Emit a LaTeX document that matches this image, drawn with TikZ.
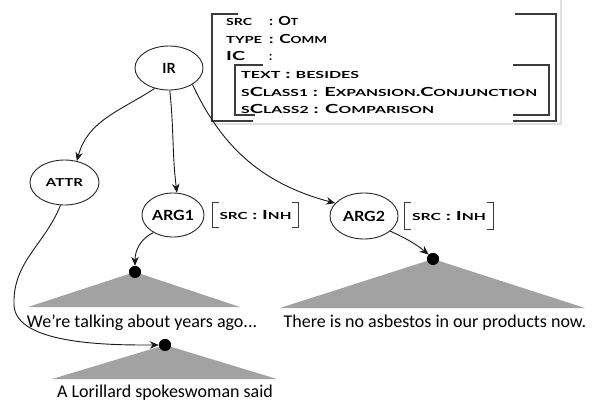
\documentclass[tikz,border=0pt]{standalone}
\usepackage{fontspec}
\setmainfont{Carlito}
\newfontfamily\avmfont{Lato}
\usepackage{tikz}
\usetikzlibrary{calc, shapes.geometric, arrows.meta, shadows}
\definecolor{trigray}{RGB}{162,162,162}
\definecolor{brk}{RGB}{60,60,60}
\makeatletter
\newcommand{\smc}[1]{{\fontsize{\fpeval{0.78*\f@size}}{0}\selectfont\uppercase{#1}}}
\makeatother
\newcommand{\fitw}[2]{\resizebox{#1}{\height}{#2}}
\tikzstyle{feat} = [font=\avmfont\bfseries\fontsize{12.5}{14}\selectfont, inner sep=0pt, anchor=base west]
\tikzstyle{rel} = [ellipse, draw=black!85, line width=0.9pt, inner sep=0pt, font=\avmfont\bfseries\fontsize{14}{16}\selectfont]
\tikzstyle{srcbox} = [font=\avmfont\bfseries\fontsize{12.5}{14}\selectfont, inner sep=0pt]
\tikzstyle{bracket} = [draw=brk, line width=1.1pt]
\tikzstyle{dot} = [circle, fill=black, inner sep=0pt, minimum size=12pt]
\tikzstyle{sent} = [font=\fontsize{18}{20}\selectfont, inner sep=0pt, anchor=base]
\tikzstyle{arr} = [-{Stealth[length=9pt, width=7.5pt]}, line width=0.9pt, black!90]

\begin{document}
\begin{tikzpicture}[x=1pt, y=1pt]

        \useasboundingbox (0, 0) rectangle (599, -399);

        % attribute box of the relation
        \fill[white, drop shadow={opacity=0.25, shadow xshift=2pt, shadow yshift=-2pt}] (209, 2) rectangle (560, -123);
        \coordinate (avmtl) at (212, -14);
        \coordinate (avmbr) at (556, -121);
        \coordinate (ictl) at (235, -65);
        \coordinate (icbr) at (549, -115);
        \draw[bracket] ([xshift=26pt]avmtl) -- (avmtl) -- (avmtl |- avmbr) -- ([xshift=41pt]avmtl |- avmbr);
        \draw[bracket] ([xshift=-41pt]avmbr |- avmtl) -- (avmbr |- avmtl) -- (avmbr) -- ([xshift=-43pt]avmbr);
        \draw[bracket] ([xshift=28pt]ictl) -- (ictl) -- (ictl |- icbr) -- ([xshift=20pt]ictl |- icbr);
        \draw[bracket] ([xshift=-36pt]icbr |- ictl) -- (icbr |- ictl) -- (icbr) -- ([xshift=-36pt]icbr);

        \node[feat] at (226, -25) (Src) {\makebox[43pt][l]{\fitw{26pt}{\smc{src}}}\fitw{29pt}{: O\smc{t}}};
        \node[feat] at (226, -43) (Type) {\makebox[43pt][l]{\fitw{36pt}{\smc{type}}}\fitw{58pt}{: C\smc{omm}}};
        \node[feat] at (226, -60) (IC) {\makebox[43pt][l]{\fitw{19pt}{IC}}:};
        \node[feat] at (241, -78) (Text) {\fitw{118pt}{\smc{text} : \smc{besides}}};
        \node[feat] at (241, -96) (SClassA) {\fitw{296pt}{\smc{s}C\smc{lass1} : E\smc{xpansion}.C\smc{onjunction}}};
        \node[feat] at (241, -113) (SClassB) {\fitw{193pt}{\smc{s}C\smc{lass2} : C\smc{omparison}}};

        % relation and its arguments
        \node[rel, minimum width=68pt, minimum height=44pt] at (169, -68) (IR) {IR};
        \node[rel, minimum width=69pt, minimum height=45pt] at (64.5, -182.5) (Attr) {\fitw{37pt}{\smc{attr}}};
        \node[rel, minimum width=62pt, minimum height=44pt] at (173, -215) (ArgA) {\fitw{42pt}{ARG1}};
        \node[rel, minimum width=68pt, minimum height=46pt] at (364, -216) (ArgB) {\fitw{42pt}{ARG2}};

        \node[srcbox, minimum width=85pt, minimum height=24pt] at (255.5, -215) (SrcA) {\fitw{72pt}{\smc{src} : I\smc{nh}}};
        \node[srcbox, minimum width=88pt, minimum height=26pt] at (449, -216) (SrcB) {\fitw{74pt}{\smc{src} : I\smc{nh}}};
        \draw[bracket] ([xshift=6pt]SrcA.north west) -- (SrcA.north west) -- (SrcA.south west) -- ([xshift=6pt]SrcA.south west);
        \draw[bracket] ([xshift=-6pt]SrcA.north east) -- (SrcA.north east) -- (SrcA.south east) -- ([xshift=-6pt]SrcA.south east);
        \draw[bracket] ([xshift=6pt]SrcB.north west) -- (SrcB.north west) -- (SrcB.south west) -- ([xshift=6pt]SrcB.south west);
        \draw[bracket] ([xshift=-6pt]SrcB.north east) -- (SrcB.north east) -- (SrcB.south east) -- ([xshift=-6pt]SrcB.south east);

        % text spans
        \node[dot] at (135, -272) (SpanA) {};
        \node[dot] at (433, -259) (SpanB) {};
        \node[dot] at (165, -345) (SpanAttr) {};
        \fill[trigray] (SpanA.center) -- (28, -307) -- (240, -307) -- cycle;
        \fill[trigray] (SpanB.center) -- (280, -308) -- (585, -308) -- cycle;
        \fill[trigray] (SpanAttr.center) -- (52, -379) -- (277, -379) -- cycle;
        \node[dot] at (135, -272) {};
        \node[dot] at (433, -259) {};
        \node[dot] at (165, -345) {};

        \node[sent] at (142, -327) (TextA) {We're talking about years ago...};
        \node[sent] at (435, -327) (TextB) {There is no asbestos in our products now.};
        \node[sent] at (165, -397) (TextAttr) {A Lorillard spokeswoman said};

        \coordinate (attrbend) at (14, -305);

        \draw[arr] (IR.235) to[out=213, in=75] (Attr.60);
        \draw[arr] (IR.-88) to[out=-84, in=97] (ArgA.80);
        \draw[arr] (IR.-35) to[out=-65, in=165] (ArgB.156);
        \draw[arr] (ArgA.222) to[out=205, in=90] (SpanA.north);
        \draw[arr] (ArgB.-30) to[out=-25, in=140] (SpanB.135);
        \draw[arr] (Attr.-100) to[out=-112, in=92] (attrbend) to[out=-88, in=180, looseness=0.7] (SpanAttr.west);

    \end{tikzpicture}
\end{document}
